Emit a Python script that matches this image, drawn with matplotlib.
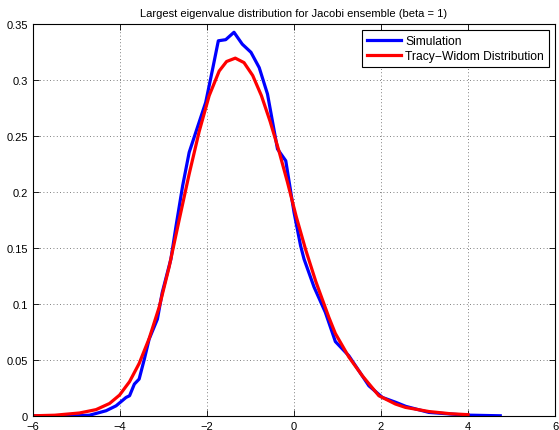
import matplotlib.pyplot as plt

plt.rcParams["font.family"] = ["Liberation Sans", "DejaVu Sans"]

# 模拟结果（蓝线）
sim_x = [-6.0, -5.0, -4.70, -4.32, -4.09, -3.86, -3.78, -3.67, -3.56, -3.44, -3.33,
         -3.14, -3.03, -2.83, -2.71, -2.56, -2.41, -2.26, -2.03, -1.87, -1.74, -1.57,
         -1.38, -1.19, -0.99, -0.80, -0.61, -0.38, -0.19, 0.0, 0.15, 0.23, 0.46, 0.72,
         0.95, 1.26, 1.72, 2.03, 2.34, 2.57, 3.10, 3.94, 4.74]
sim_y = [0.0, 0.0, 0.0005, 0.0045, 0.0089, 0.0164, 0.0179, 0.0283, 0.0328, 0.0507, 0.0685,
         0.0864, 0.110, 0.140, 0.170, 0.2055, 0.2353, 0.253, 0.280, 0.310, 0.335, 0.336,
         0.3426, 0.332, 0.3247, 0.311, 0.2874, 0.2383, 0.2278, 0.1817, 0.152, 0.140, 0.115,
         0.0924, 0.0663, 0.0536, 0.0268, 0.0164, 0.012, 0.0084, 0.003, 0.0006, 0.0]

# Tracy-Widom 分布（红线）
tw_x = [-6.0, -5.5, -4.93, -4.55, -4.24, -4.01, -3.78, -3.56, -3.33, -3.10, -2.87, -2.64,
        -2.41, -2.18, -1.95, -1.72, -1.55, -1.35, -1.15, -0.95, -0.75, -0.55, -0.35,
        -0.15, 0.05, 0.27, 0.50, 0.80, 0.95, 1.26, 1.57, 1.95, 2.33, 2.56, 3.10, 3.60, 4.0]
tw_y = [0.0, 0.0005, 0.0025, 0.0055, 0.011, 0.0185, 0.0305, 0.0467, 0.069, 0.097, 0.133,
        0.175, 0.216, 0.254, 0.286, 0.308, 0.3165, 0.3195, 0.3155, 0.304, 0.286, 0.263,
        0.237, 0.2085, 0.178, 0.148, 0.120, 0.088, 0.0735, 0.0525, 0.0357, 0.0179,
        0.0105, 0.0075, 0.0038, 0.0018, 0.001]

fig = plt.figure(figsize=(5.59, 4.31), dpi=100)
ax = fig.add_axes([0.059, 0.033, 0.934, 0.909])

ax.plot(sim_x, sim_y, color="#0000ff", linewidth=2.3, label="Simulation")
ax.plot(tw_x, tw_y, color="#ff0000", linewidth=2.3, label="Tracy\u2212Widom Distribution")

ax.set_xlim(-6, 6)
ax.set_ylim(0, 0.35)
ax.set_xticks(range(-6, 7, 2))
ax.set_xticklabels(["\u22126", "\u22124", "\u22122", "0", "2", "4", "6"])
ax.set_yticks([0, 0.05, 0.1, 0.15, 0.2, 0.25, 0.3, 0.35])
ax.set_yticklabels(["0", "0.05", "0.1", "0.15", "0.2", "0.25", "0.3", "0.35"])
ax.tick_params(direction="in", top=True, right=True, labelsize=8, length=4, width=0.6)
ax.grid(True, linestyle=(0, (1, 3)), color="#555555", linewidth=0.6)
for sp in ax.spines.values():
    sp.set_linewidth(0.8)

ax.set_title("Largest eigenvalue distribution for Jacobi ensemble (beta = 1)", fontsize=8, pad=6)

leg = ax.legend(loc="upper right", fontsize=8.7, fancybox=False, framealpha=1,
                edgecolor="black", borderpad=0.4, handlelength=2.8, labelspacing=0.3,
                handletextpad=0.4, borderaxespad=0.5)
leg.get_frame().set_linewidth(0.8)

fig.savefig("out.png", dpi=100)
